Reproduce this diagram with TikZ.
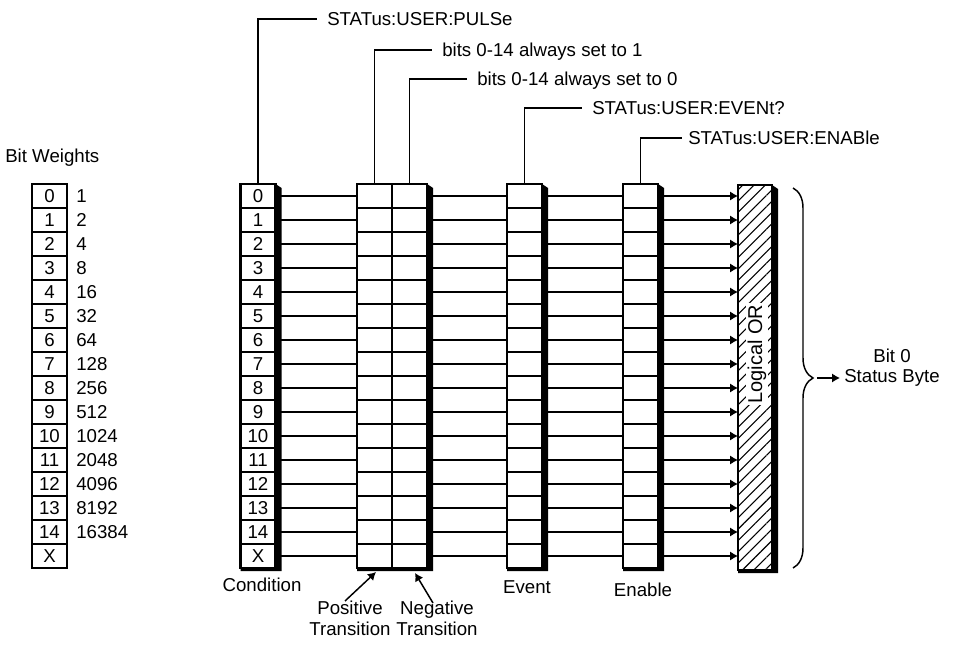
\documentclass[tikz,border=0pt]{standalone}
\usepackage{fontspec}
\setmainfont{Liberation Sans}
\usetikzlibrary{arrows.meta,patterns.meta,decorations.pathreplacing,calc}
\newcommand{\regshadow}[3]{%
  \fill (#1.north east) -- ++(6,4) -- ($(#2.south east)+(6,3)$) -- ($(#3.south west)+(0,3)$) -- (#3.south west) -- (#2.south east) -- cycle;}
\begin{document}
\begin{tikzpicture}[x=0.75pt,y=-0.75pt,
  txt/.style={font=\fontsize{14pt}{16pt}\selectfont, inner sep=0pt},
  cell/.style={draw, line width=1.8pt, minimum width=26.25pt, minimum height=18pt,
    inner sep=0pt, outer sep=0pt, font=\fontsize{14pt}{15pt}\selectfont},
  wcell/.style={cell, line width=1.2pt},
  conn/.style={line width=1pt},
  lead/.style={line width=1.1pt},
  leadtxt/.style={txt, anchor=west, inner xsep=7.5pt, text height=10pt, text depth=0pt},
  tip/.style={-{Latex[length=6pt,width=7pt]}},
]
\useasboundingbox (0,0) rectangle (961,645);

% ---- bit weights
\node[txt, anchor=west] (bwlabel) at (5,158) {Bit Weights};
\foreach \k in {0,...,15}{
  \node[wcell] (wt-\k) at (49.5,{196+24*\k}) {\ifnum\k=15 X\else\k\fi};
}
\foreach \w [count=\k from 0] in {1,2,4,8,16,32,64,128,256,512,1024,2048,4096,8192,16384}{
  \node[txt, anchor=west] (wv-\k) at (76,{196+24*\k}) {\w};
}

% ---- registers
\foreach \k in {0,...,15}{
  \node[cell] (cond-\k) at (258,{196+24*\k}) {\ifnum\k=15 X\else\k\fi};
  \node[cell] (pos-\k) at (374.5,{196+24*\k}) {};
  \node[cell] (neg-\k) at (409.5,{196+24*\k}) {};
  \node[cell] (ev-\k) at (524.5,{196+24*\k}) {};
  \node[cell] (en-\k) at (640.5,{196+24*\k}) {};
}

% ---- logical OR box
\node[draw, line width=1.8pt, minimum width=25.5pt, minimum height=288.75pt,
  inner sep=0pt, outer sep=0pt,
  pattern={Lines[angle=45,distance=6pt,line width=0.8pt]}] (orbox) at (755,377.5) {};

% ---- connectors
\foreach \k in {0,...,15}{
  \draw[conn] (cond-\k.east) -- (pos-\k.west);
  \draw[conn] (neg-\k.east) -- (ev-\k.west);
  \draw[conn] (ev-\k.east) -- (en-\k.west);
  \draw[conn,tip] (en-\k.east) -- (en-\k.east -| orbox.west);
}

% ---- shadows
\regshadow{cond-0}{cond-15}{cond-15}
\regshadow{neg-0}{neg-15}{pos-15}
\regshadow{ev-0}{ev-15}{ev-15}
\regshadow{en-0}{en-15}{en-15}
\regshadow{orbox}{orbox}{orbox}

\node[txt, rotate=90, fill=white, inner sep=1.5pt, font=\fontsize{15pt}{16pt}\selectfont] (ortxt) at (757,354) {Logical OR};

% ---- leader labels
\node[leadtxt] (tpulse) at (317,19) {STATus:USER:PULSe};
\draw[lead] (cond-0.north) |- (tpulse.west);
\node[leadtxt] (tone) at (432,50) {bits 0-14 always set to 1};
\draw[lead] (pos-0.north) |- (tone.west);
\node[leadtxt] (tzero) at (467,79) {bits 0-14 always set to 0};
\draw[lead] (neg-0.north) |- (tzero.west);
\node[leadtxt] (tevent) at (582,108) {STATus:USER:EVENt?};
\draw[lead] (ev-0.north) |- (tevent.west);
\node[leadtxt, inner xsep=4.5pt] (tenable) at (682,138) {STATus:USER:ENABle};
\draw[lead] (en-0.north) |- (tenable.west);

% ---- bottom labels
\node[txt] (lcond) at (262,585) {Condition};
\node[txt] (lev) at (527,587) {Event};
\node[txt] (len) at (643,590) {Enable};
\node[txt, align=center] (lpos) at (350,618) {Positive\\Transition};
\node[txt, align=center] (lneg) at (437,618) {Negative\\Transition};
\coordinate (ptail) at (345,601);
\coordinate (ptip) at (376,572);
\draw[lead,tip] (ptail) -- (ptip);
\coordinate (ntail) at (433,603);
\coordinate (ntip) at (415,573);
\draw[lead,tip] (ntail) -- (ntip);

% ---- brace and status byte
\draw[line width=1.1pt, decorate, decoration={brace, amplitude=15pt}] (793,188) -- (793,568);
\coordinate (btip) at (817,378);
\node[txt, anchor=west, inner xsep=3pt] (tsb) at (840,378) {Status Byte};
\node[txt] (tbit) at (892,356) {Bit 0};
\draw[lead,tip] (btip) -- (tsb.west);
\end{tikzpicture}
\end{document}
